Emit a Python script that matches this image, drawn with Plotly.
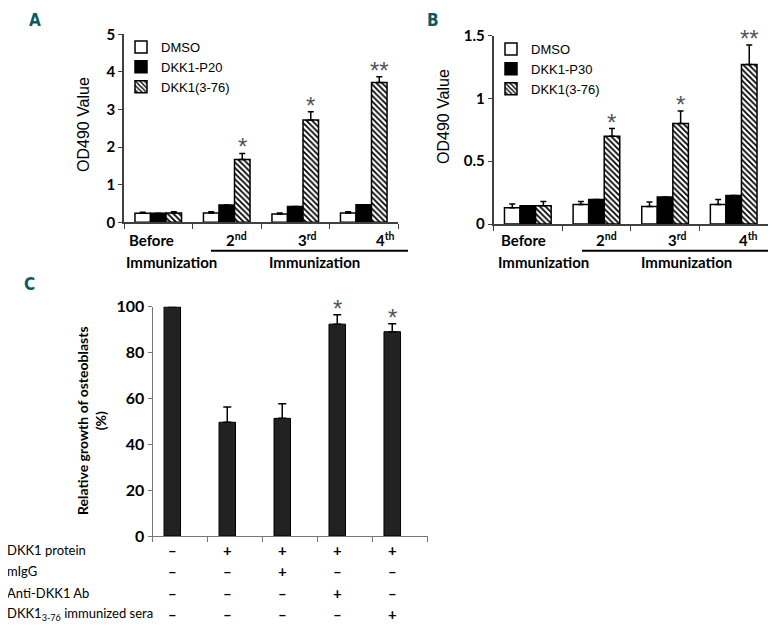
import plotly.graph_objects as go

W, H = 776, 628
OFF = 8  # the page body adds an 8px margin around the figure

# ---------------- data ----------------
groups = ["Before", "2nd", "3rd", "4th"]
group_labels = ["Before", "2<sup>nd</sup>", "3<sup>rd</sup>", "4<sup>th</sup>"]

a_dmso = [0.24, 0.25, 0.22, 0.25]
a_dmso_err = [0.03, 0.03, 0.03, 0.03]
a_p20 = [0.24, 0.46, 0.42, 0.47]
a_p20_err = [0, 0, 0, 0]
a_dkk = [0.25, 1.67, 2.72, 3.72]
a_dkk_err = [0.03, 0.16, 0.22, 0.15]
a_stars = ["", "*", "*", "**"]

b_dmso = [0.13, 0.155, 0.14, 0.155]
b_dmso_err = [0.03, 0.025, 0.035, 0.04]
b_p30 = [0.145, 0.195, 0.215, 0.228]
b_p30_err = [0, 0, 0, 0]
b_dkk = [0.145, 0.70, 0.80, 1.27]
b_dkk_err = [0.035, 0.06, 0.10, 0.155]
b_stars = ["", "*", "*", "**"]

c_vals = [100, 49.6, 51.3, 92.4, 89.1]
c_err = [0, 6.7, 6.4, 4.1, 3.5]
c_stars = ["", "", "", "*", "*"]
row_labels = ["DKK1 protein", "mIgG", "Anti-DKK1 Ab", "DKK1<sub>3-76</sub> immunized sera"]
row_signs = [
    ["–", "+", "+", "+", "+"],
    ["–", "–", "+", "–", "–"],
    ["–", "–", "–", "+", "–"],
    ["–", "–", "–", "–", "+"],
]

# ---------------- styling helpers ----------------
def px_x(v):
    return (v - OFF) / W

def px_y(v):
    return 1 - (v - OFF) / H

BOLD = dict(family="Lato, Open Sans, sans-serif", size=15, color="black", weight="bold")
ARIAL = dict(family="Liberation Sans, Arial, sans-serif", size=14, color="black")
TEAL = "#0d5a5e"
AXCOL = "#404040"
BARGAP = 0.32

fig = go.Figure()

def add_group(xa, ya, vals, errs, name, legend, fill, pattern=None):
    marker = dict(color=fill, line=dict(color="black", width=1.5))
    if pattern:
        marker["pattern"] = dict(shape="\\", fgcolor="black", bgcolor="white", size=4, solidity=0.45)
    fig.add_trace(go.Bar(
        x=groups, y=vals, name=name, xaxis=xa, yaxis=ya, legend=legend,
        marker=marker,
        error_y=dict(type="data", array=errs, arrayminus=[0] * len(errs), symmetric=False,
                     color="black", thickness=1.5, width=3, visible=True),
    ))

add_group("x", "y", a_dmso, a_dmso_err, "DMSO", "legend", "white")
add_group("x", "y", a_p20, a_p20_err, "DKK1-P20", "legend", "black")
add_group("x", "y", a_dkk, a_dkk_err, "DKK1(3-76)", "legend", "white", pattern=True)

add_group("x2", "y2", b_dmso, b_dmso_err, "DMSO", "legend2", "white")
add_group("x2", "y2", b_p30, b_p30_err, "DKK1-P30", "legend2", "black")
add_group("x2", "y2", b_dkk, b_dkk_err, "DKK1(3-76)", "legend2", "white", pattern=True)

c_x = list(range(len(c_vals)))
fig.add_trace(go.Bar(
    x=c_x, y=c_vals, xaxis="x3", yaxis="y3", showlegend=False, width=0.30,
    marker=dict(color="#222222", line=dict(color="black", width=1)),
    error_y=dict(type="data", array=c_err, arrayminus=[0] * len(c_err), symmetric=False,
                 color="black", thickness=1.5, width=4),
))

ann = []

def note(**kw):
    kw.setdefault("showarrow", False)
    kw.setdefault("xanchor", "center")
    kw.setdefault("yanchor", "middle")
    ann.append(kw)

STAR = dict(family="Liberation Sans", size=24, color="#555")
third = (1 - BARGAP) / 3
for i, s in enumerate(a_stars):
    if s:
        note(x=i + third, y=a_dkk[i] + a_dkk_err[i], xref="x", yref="y", text=s,
             yanchor="bottom", yshift=-9, font=STAR)
for i, s in enumerate(b_stars):
    if s:
        note(x=i + third, y=b_dkk[i] + b_dkk_err[i], xref="x2", yref="y2", text=s,
             yanchor="bottom", yshift=-9, font=STAR)
for i, s in enumerate(c_stars):
    if s:
        note(x=c_x[i], y=c_vals[i] + c_err[i], xref="x3", yref="y3", text=s,
             yanchor="bottom", yshift=-9, font=STAR)

# group labels under panels A and B
a_shift = [-0.096, 0.137, 0.175, 0.32]
b_shift = [-0.069, 0.153, 0.17, 0.215]
for i, lab in enumerate(group_labels):
    note(x=i + a_shift[i], y=px_y(240), xref="x", yref="paper", text=lab, font=BOLD)
    note(x=i + b_shift[i], y=px_y(240), xref="x2", yref="paper", text=lab, font=BOLD)
for xc in [171, 314, 543, 686]:
    note(x=px_x(xc), y=px_y(262), xref="paper", yref="paper", text="Immunization", font=BOLD)

# y titles
note(x=px_x(83), y=px_y(125), xref="paper", yref="paper", text="OD490 Value",
     textangle=-90, font=dict(ARIAL, size=16))
note(x=px_x(443), y=px_y(117), xref="paper", yref="paper", text="OD490 Value",
     textangle=-90, font=dict(ARIAL, size=16))
note(x=px_x(91), y=px_y(421), xref="paper", yref="paper",
     text="Relative growth of osteoblasts<br>(%)", textangle=-90, font=dict(BOLD, size=14))

# panel letters
LETTER = dict(family="DejaVu Sans Condensed, DejaVu Sans", size=17, color=TEAL, weight="bold")
note(x=px_x(35), y=1, xref="paper", yref="paper", text="A", yanchor="top", font=LETTER)
note(x=px_x(433), y=1, xref="paper", yref="paper", text="B", yanchor="top", font=LETTER)
note(x=px_x(29), y=px_y(284), xref="paper", yref="paper", text="C", font=LETTER)

# table under panel C
row_y = [549.5, 571, 592.5, 613.5]
for r, lab in enumerate(row_labels):
    note(x=px_x(5), y=px_y(row_y[r]), xref="paper", yref="paper", text=lab, xanchor="left",
         font=dict(family="Lato, Open Sans, sans-serif", size=13, color="black"))
    for i, s in enumerate(row_signs[r]):
        note(x=c_x[i], y=px_y(row_y[r]), xref="x3", yref="paper", text=s,
             font=dict(BOLD, size=15))

shapes = [
    dict(type="line", xref="paper", yref="paper", x0=px_x(211), x1=px_x(408),
         y0=px_y(250.7), y1=px_y(250.7), line=dict(color="black", width=2)),
    dict(type="line", xref="paper", yref="paper", x0=px_x(582), x1=px_x(770),
         y0=px_y(250.7), y1=px_y(250.7), line=dict(color="black", width=2)),
]

xcat = dict(type="category", range=[-0.5, 3.5], tickson="boundaries", ticks="outside",
            ticklen=5, tickwidth=1.2, tickcolor=AXCOL, showticklabels=False, showline=True,
            linecolor=AXCOL, linewidth=1.5, showgrid=False, zeroline=False, fixedrange=True,
            automargin=False)
yax = dict(ticks="outside", ticklen=4, tickwidth=1.2, tickcolor=AXCOL, showline=True,
           linecolor=AXCOL, linewidth=1.5, showgrid=False, zeroline=False, tickfont=BOLD,
           automargin=False)

LEG = dict(family="Liberation Sans, Arial, sans-serif", size=13, color="black")
c_left = -0.356
fig.update_layout(
    width=W, height=H, template="none",
    margin=dict(l=0, r=0, t=0, b=0, pad=0, autoexpand=False),
    paper_bgcolor="white", plot_bgcolor="white",
    barmode="group", bargap=BARGAP, bargroupgap=0,
    xaxis=dict(xcat, domain=[px_x(124), px_x(398)], anchor="y"),
    yaxis=dict(yax, domain=[px_y(222.3), px_y(34.3)], range=[0, 5], dtick=1, anchor="x"),
    xaxis2=dict(xcat, domain=[px_x(493.5), px_x(768)], anchor="y2"),
    yaxis2=dict(yax, domain=[px_y(224), px_y(35.7)], range=[0, 1.5],
                tickvals=[0, 0.5, 1, 1.5], ticktext=["0", "0.5", "1", "1.5"], anchor="x2"),
    xaxis3=dict(domain=[px_x(152.7), px_x(427.7)], anchor="y3", range=[c_left, c_left + 5.001],
                tickvals=[c_left + k for k in range(6)], ticks="outside", ticklen=5,
                tickwidth=1, tickcolor="#777", showticklabels=False, showline=True,
                linecolor="#777", linewidth=1.2, showgrid=False, zeroline=False,
                automargin=False),
    yaxis3=dict(yax, domain=[px_y(536), px_y(306.7)], range=[0, 100], dtick=20, anchor="x3",
                linecolor="#777", linewidth=1.2, tickcolor="#777", tickfont=dict(BOLD, size=16)),
    legend=dict(x=px_x(121), y=px_y(32), xanchor="left", yanchor="top", font=LEG,
                bgcolor="rgba(0,0,0,0)", borderwidth=0, itemwidth=30, itemclick=False),
    legend2=dict(x=px_x(491), y=px_y(34), xanchor="left", yanchor="top", font=LEG,
                 bgcolor="rgba(0,0,0,0)", borderwidth=0, itemwidth=30, itemclick=False),
    annotations=ann, shapes=shapes, showlegend=True,
)

fig.write_html("out.html")
